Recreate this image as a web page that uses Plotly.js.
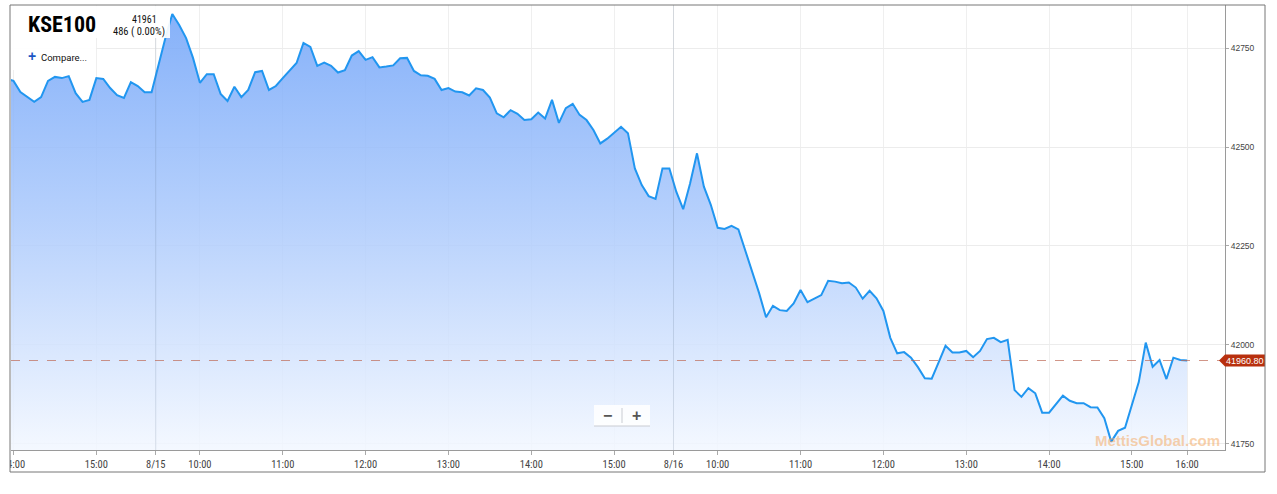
<!DOCTYPE html>
<html>
<head>
<meta charset="utf-8">
<script src="https://cdn.plot.ly/plotly-3.0.1.min.js"></script>
<style>
  html, body { margin: 0; padding: 0; background: #ffffff; }
  #chart { width: 1277px; height: 494px; }
</style>
</head>
<body>
<div id="chart"></div>
<script>
// ---------------- DATA ----------------
const symbol = 'KSE100';
const headerLast = '41961';
const headerChange = '486 ( 0.00%)';
const lastValue = 41960.80;

const dayLabels = ['8/14', '8/15', '8/16'];

// 5-minute session grids (time labels only)
function grid(h0, m0, h1, m1) {
  const out = [];
  for (let t = h0 * 60 + m0; t <= h1 * 60 + m1; t += 5) {
    out.push(Math.floor(t / 60) + ':' + String(t % 60).padStart(2, '0'));
  }
  return out;
}
const times_0814 = grid(13, 55, 15, 40);
const times_0815 = grid(9, 30, 15, 40);
const times_0816 = grid(9, 30, 15, 30).concat(['15:45', '16:00']);

const kse_0814 = [42672, 42667, 42639, 42626, 42614, 42626, 42667, 42677, 42674, 42679,
  42636, 42614, 42619, 42674, 42672, 42649, 42631, 42624, 42664, 42654, 42638, 42638];

const kse_0815 = [42707, 42775, 42836, 42808, 42775, 42725, 42662, 42684, 42684, 42634,
  42616, 42652, 42626, 42644, 42689, 42692, 42644, 42654, 42674, 42692,
  42712, 42763, 42753, 42705, 42713, 42705, 42688, 42694, 42731, 42742,
  42720, 42727, 42701, 42703, 42706, 42724, 42725, 42692, 42681, 42680,
  42672, 42644, 42649, 42640, 42638, 42630, 42648, 42644, 42625, 42585,
  42575, 42593, 42584, 42568, 42570, 42587, 42572, 42619, 42561, 42598,
  42609, 42581, 42568, 42543, 42509, 42521, 42535, 42551, 42535, 42446,
  42404, 42376, 42369, 42446, 42446];

const kse_0816 = [42387, 42343, 42408, 42484, 42400, 42354, 42296, 42293, 42301, 42292,
  42240, 42187, 42131, 42070, 42099, 42088, 42086, 42105, 42139, 42108,
  42116, 42126, 42162, 42160, 42156, 42158, 42145, 42117, 42137, 42118,
  42086, 42018, 41979, 41982, 41968, 41944, 41916, 41915, 41956, 41998,
  41981, 41981, 41985, 41969, 41985, 42015, 42018, 42007, 42013, 41886,
  41869, 41891, 41878, 41829, 41829, 41850, 41872, 41859, 41853, 41853,
  41843, 41842, 41815, 41756, 41783, 41791, 41849, 41907, 42006, 41945,
  41962, 41914, 41968, 41962, 41960.80];

const hourTicks = ['10:00', '11:00', '12:00', '13:00', '14:00', '15:00', '16:00'];
const yTicks = [41750, 42000, 42250, 42500, 42750];

// ---------------- BUILD ----------------
const sessions = [
  { day: dayLabels[0], times: times_0814, vals: kse_0814 },
  { day: dayLabels[1], times: times_0815, vals: kse_0815 },
  { day: dayLabels[2], times: times_0816, vals: kse_0816 }
];

const xs = [], ys = [], tickvals = [], ticktext = [], dayLines = [];
let idx = 0;
sessions.forEach((s, si) => {
  const first = idx;
  if (si > 0) { tickvals.push(first - 0.4); ticktext.push(s.day); dayLines.push(first - 0.4); }
  s.times.forEach((t, i) => {
    xs.push(idx); ys.push(s.vals[i]);
    const hh = t.length === 4 ? '0' + t : t;
    if (si === 0 && hh === '14:00') { tickvals.push(idx); ticktext.push('14:00'); }
    if (si === 0 && hh === '15:00') { tickvals.push(idx); ticktext.push('15:00'); }
    if (si > 0 && hourTicks.indexOf(hh) >= 0) { tickvals.push(idx); ticktext.push(hh); }
    idx++;
  });
});

// pixel helpers for decorations (plot area 11..1225 x 5..450)
const PL = 11, PR = 1225, PT = 5, PB = 450;
const px = p => (p - PL) / (PR - PL);
const py = p => (PB - p) / (PB - PT);

const NARROW = 'Liberation Sans Narrow, Roboto Condensed, Arial Narrow, Liberation Sans, Arial, sans-serif';
const REG = 'Liberation Sans, Arial, Roboto, sans-serif';

const trace = {
  x: xs, y: ys, type: 'scatter', mode: 'lines',
  line: { color: '#2196f0', width: 2 },
  fill: 'tozeroy',
  fillgradient: {
    type: 'vertical', start: 41735, stop: 42860,
    colorscale: [[0, 'rgba(242,247,255,0.85)'], [0.5, 'rgba(172,202,252,0.85)'], [1, 'rgba(110,162,248,0.85)']]
  },
  hoverinfo: 'skip'
};

const h = 15; // half height of price tag in data units
const shapes = [
  // date separators
  ...dayLines.map(v => ({ type: 'line', xref: 'x', yref: 'paper', x0: v, x1: v, y0: 0, y1: 1,
    line: { color: 'rgba(90,110,140,0.18)', width: 1 }, layer: 'above' })),
  // last value dashed line
  { type: 'line', xref: 'paper', yref: 'y', x0: 0, x1: 1, y0: lastValue, y1: lastValue,
    line: { color: 'rgba(190,105,85,0.7)', width: 1, dash: 'dash' }, layer: 'above' },
  // header boxes
  { type: 'rect', xref: 'paper', yref: 'paper', x0: px(11), x1: px(170), y0: py(38), y1: py(5.5),
    fillcolor: 'rgba(255,255,255,0.92)', line: { width: 0 }, layer: 'above' },
  { type: 'rect', xref: 'paper', yref: 'paper', x0: px(11), x1: px(96), y0: py(70), y1: py(38),
    fillcolor: 'rgba(255,255,255,0.92)', line: { width: 0 }, layer: 'above' },
  // clip left of frame
  { type: 'rect', xref: 'paper', yref: 'paper', x0: px(0), x1: px(10), y0: py(490), y1: py(0),
    fillcolor: '#ffffff', line: { width: 0 }, layer: 'above' },
  // zoom control
  { type: 'rect', xref: 'paper', yref: 'paper', x0: px(594), x1: px(650), y0: py(426), y1: py(405),
    fillcolor: 'rgba(255,255,255,0.85)', line: { width: 0 }, layer: 'above' },
  { type: 'line', xref: 'paper', yref: 'paper', x0: px(594), x1: px(650), y0: py(426), y1: py(426),
    line: { color: '#c9ccd2', width: 1 }, layer: 'above' },
  { type: 'line', xref: 'paper', yref: 'paper', x0: px(622), x1: px(622), y0: py(423), y1: py(408),
    line: { color: '#c9ccd2', width: 1 }, layer: 'above' },
  // price tag
  { type: 'path', xref: 'paper', yref: 'y', layer: 'above',
    path: 'M ' + px(1219) + ',' + lastValue + ' L ' + px(1225) + ',' + (lastValue + h) +
          ' L ' + px(1265) + ',' + (lastValue + h) + ' L ' + px(1265) + ',' + (lastValue - h) +
          ' L ' + px(1225) + ',' + (lastValue - h) + ' Z',
    fillcolor: '#b8300e', line: { width: 0 } },
  // outer frame
  { type: 'rect', xref: 'paper', yref: 'paper', x0: px(10), x1: px(1265), y0: py(472), y1: py(5),
    fillcolor: 'rgba(0,0,0,0)', line: { color: '#777777', width: 1 }, layer: 'above' }
];

const annotations = [
  { xref: 'paper', yref: 'paper', x: px(26), y: py(24), xanchor: 'left', yanchor: 'middle', showarrow: false,
    text: '<b>' + symbol + '</b>', font: { family: NARROW, size: 22, color: '#000000' } },
  { xref: 'paper', yref: 'paper', x: px(130), y: py(20), xanchor: 'left', yanchor: 'middle', showarrow: false,
    text: headerLast, font: { family: NARROW, size: 10, color: '#111111' } },
  { xref: 'paper', yref: 'paper', x: px(111), y: py(31), xanchor: 'left', yanchor: 'middle', showarrow: false,
    text: headerChange, font: { family: NARROW, size: 10.5, color: '#111111' } },
  { xref: 'paper', yref: 'paper', x: px(26), y: py(56), xanchor: 'left', yanchor: 'middle', showarrow: false,
    text: '<b>+</b>', font: { family: REG, size: 14, color: '#1a56c4' } },
  { xref: 'paper', yref: 'paper', x: px(39), y: py(57), xanchor: 'left', yanchor: 'middle', showarrow: false,
    text: 'Compare...', font: { family: 'Roboto, ' + REG, size: 9.5, color: '#111111' } },
  { xref: 'paper', yref: 'paper', x: px(1157), y: py(440), xanchor: 'center', yanchor: 'middle', showarrow: false,
    text: '<b>MettisGlobal.com</b>', font: { family: REG, size: 15, color: 'rgba(244,170,100,0.55)' } },
  { xref: 'paper', yref: 'y', x: px(1245), y: lastValue, xanchor: 'center', yanchor: 'middle', showarrow: false,
    text: lastValue.toFixed(2), font: { family: REG, size: 9, color: '#ffffff' } },
  { xref: 'paper', yref: 'paper', x: px(607), y: py(415), xanchor: 'center', yanchor: 'middle', showarrow: false,
    text: '<b>\u2212</b>', font: { family: REG, size: 16, color: '#555555' } },
  { xref: 'paper', yref: 'paper', x: px(636), y: py(415), xanchor: 'center', yanchor: 'middle', showarrow: false,
    text: '<b>+</b>', font: { family: REG, size: 16, color: '#555555' } }
];

const layout = {
  width: 1277, height: 494,
  margin: { l: PL, r: 1277 - PR, t: PT, b: 494 - PB, pad: 0 },
  paper_bgcolor: '#ffffff', plot_bgcolor: '#ffffff',
  showlegend: false, hovermode: false,
  xaxis: {
    type: 'linear', range: [0.638, 176.48],
    tickmode: 'array', tickvals: tickvals, ticktext: ticktext,
    ticks: 'outside', ticklen: 4, tickcolor: '#aaaaaa',
    showgrid: true, gridcolor: '#efefef', gridwidth: 1,
    showline: true, linecolor: '#9a9a9a', linewidth: 1, zeroline: false,
    tickfont: { family: NARROW, size: 10.5, color: '#444444' }
  },
  yaxis: {
    side: 'right', range: [41734.8, 42858.6],
    tickmode: 'array', tickvals: yTicks, ticktext: yTicks.map(String),
    ticks: 'outside', ticklen: 3, tickcolor: '#aaaaaa',
    showgrid: true, gridcolor: '#ececec', gridwidth: 1,
    showline: true, linecolor: '#9a9a9a', linewidth: 1, zeroline: false,
    tickfont: { family: REG, size: 8.5, color: '#444444' }
  },
  shapes: shapes,
  annotations: annotations
};

Plotly.newPlot('chart', [trace], layout, { staticPlot: true, displayModeBar: false });
</script>
</body>
</html>
